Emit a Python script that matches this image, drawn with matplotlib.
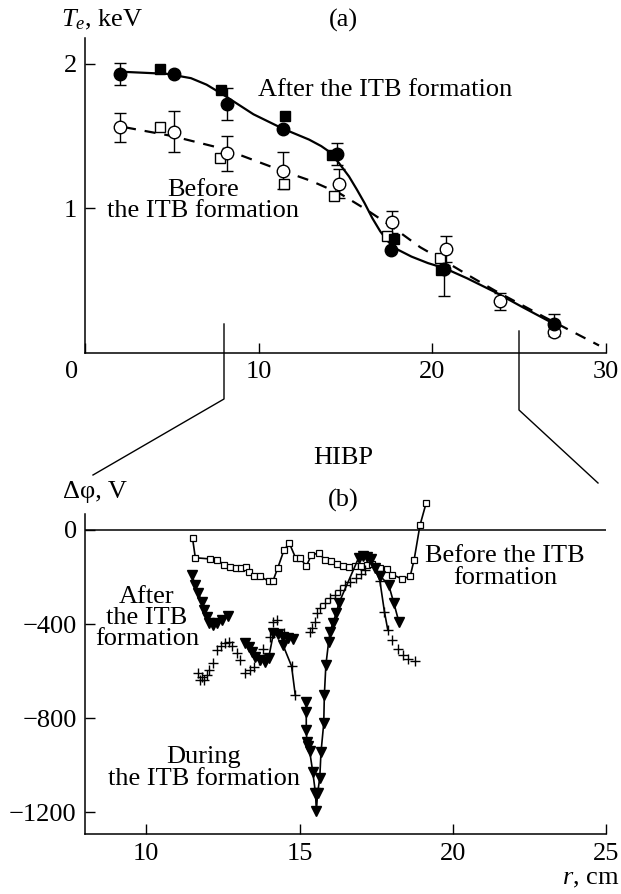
import matplotlib
matplotlib.use('Agg')
import matplotlib.pyplot as plt
from matplotlib.lines import Line2D
from matplotlib.transforms import ScaledTranslation

plt.rcParams['font.family'] = ['Liberation Serif', 'DejaVu Serif']
plt.rcParams['mathtext.fontset'] = 'custom'
plt.rcParams['mathtext.rm'] = 'Liberation Serif'
plt.rcParams['mathtext.it'] = 'Liberation Serif:italic'
plt.rcParams['font.size'] = 19

# ---- panel (a): electron temperature ----
after_circ_r = [2.0, 5.1, 8.2, 11.4, 14.5, 17.6, 20.7, 27.0]
after_circ_te = [1.93, 1.93, 1.72, 1.55, 1.375, 0.71, 0.58, 0.20]
after_circ_lo = [0.075, 0, 0.11, 0, 0.075, 0, 0.19, 0.065]
after_circ_hi = [0.075, 0, 0.11, 0, 0.075, 0, 0.03, 0.065]

after_sq_r = [4.3, 7.85, 11.5, 14.25, 17.8, 20.5]
after_sq_te = [1.965, 1.815, 1.635, 1.37, 0.79, 0.575]

before_circ_r = [2.0, 5.15, 8.2, 11.4, 14.6, 17.65, 20.8, 23.9, 27.0]
before_circ_te = [1.56, 1.53, 1.38, 1.26, 1.17, 0.905, 0.715, 0.355, 0.145]
before_circ_err = [0.1, 0.14, 0.12, 0.13, 0.1, 0.075, 0.09, 0.06, 0.03]

before_sq_r = [4.3, 7.8, 11.45, 14.35, 17.4, 20.45]
before_sq_te = [1.56, 1.35, 1.17, 1.085, 0.81, 0.655]

fit_after_r = [2.0, 4.7, 6.1, 7.0, 7.9, 9.7, 11.4, 12.9, 13.6, 14.2, 14.7, 15.2, 15.65,
               16.1, 16.55, 17.0, 17.45, 17.9, 18.8, 19.75, 20.7, 22.0, 23.6, 25.2, 27.0]
fit_after_te = [1.945, 1.93, 1.90, 1.855, 1.79, 1.65, 1.55, 1.475, 1.43, 1.38, 1.30, 1.22, 1.13,
                1.035, 0.93, 0.84, 0.77, 0.72, 0.665, 0.62, 0.585, 0.515, 0.42, 0.315, 0.20]

fit_before_r = [2.3, 5.0, 8.0, 11.1, 13.0, 14.7, 16.2, 17.7, 19.3, 20.9, 22.3, 23.6, 26.4, 29.6]
fit_before_te = [1.56, 1.50, 1.41, 1.27, 1.19, 1.10, 0.99, 0.87, 0.73, 0.62, 0.52, 0.43, 0.25, 0.05]

# ---- panel (b): HIBP potential ----
before_r = [11.51, 11.60, 12.07, 12.32, 12.54, 12.74, 12.93, 13.10, 13.25, 13.36, 13.51, 13.71,
            14.00, 14.13, 14.29, 14.50, 14.67, 14.87, 15.03, 15.22, 15.38, 15.62, 15.84, 16.03,
            16.22, 16.42, 16.61, 16.80, 17.00, 17.19, 17.38, 17.64, 17.84, 18.03, 18.35, 18.61,
            18.74, 18.93, 19.13]
before_phi = [-36, -118, -123, -128, -147, -158, -161, -161, -157, -178, -194, -197,
              -218, -218, -161, -83, -57, -118, -121, -154, -108, -97, -128, -133,
              -143, -154, -157, -151, -151, -147, -143, -161, -168, -190, -208, -197,
              -126, 20, 114]

after1_r = [11.49, 11.59, 11.70, 11.81, 11.89, 11.97, 12.06, 12.19, 12.32, 12.46, 12.65]
after1_phi = [-191, -234, -269, -305, -340, -368, -397, -404, -397, -382, -365]

after2_r = [13.23, 13.34, 13.45, 13.56, 13.72, 13.88, 13.99, 14.15, 14.31, 14.47, 14.64, 14.80]
after2_phi = [-482, -496, -517, -538, -552, -560, -545, -439, -442, -456, -460, -462]

drop_r = [14.46, 14.74, 14.86]
drop_phi = [-489, -579, -701]

during_r = [15.22, 15.22, 15.22, 15.24, 15.28, 15.33, 15.43, 15.52, 15.55, 15.59, 15.66, 15.70,
            15.79, 15.81, 15.86, 15.95, 16.00, 16.09, 16.20, 16.28, 16.93, 17.06, 17.19, 17.32,
            17.45, 17.64, 17.91, 18.08, 18.24]
during_phi = [-730, -772, -850, -900, -918, -940, -1027, -1118, -1195, -1118, -1055, -946,
              -822, -701, -574, -475, -432, -394, -354, -312, -118, -111, -114, -123,
              -161, -197, -234, -312, -390]

cross_r = [11.70, 11.74, 11.81, 11.87, 11.97, 12.06, 12.17, 12.30, 12.43, 12.57, 12.71, 12.79,
           12.95, 13.06, 13.23, 13.37, 13.50, 13.67, 13.80, 14.05, 14.13, 14.26, 14.50,
           14.74, 14.86,
           15.35, 15.41, 15.52, 15.57, 15.68, 15.84, 16.00, 16.17, 16.33, 16.50, 16.66, 16.83,
           17.00, 17.15,
           17.62, 17.77, 17.88, 18.02, 18.20, 18.38, 18.55, 18.78]
cross_phi = [-609, -636, -624, -640, -617, -595, -567, -510, -493, -482, -475, -493,
             -524, -553, -609, -595, -581, -553, -507, -453, -390, -382, -436,
             -579, -701,
             -432, -418, -390, -354, -333, -312, -290, -276, -255, -234, -220, -205,
             -187, -170,
             -215, -347, -425, -467, -507, -531, -548, -555]

fall_r = [17.35, 17.62, 17.77, 17.88]
fall_phi = [-130, -215, -347, -425]

W, H = 621, 894
fig = plt.figure(figsize=(W / 100, H / 100), dpi=100)


def box(x0, y0, x1, y1):
    return [x0 / W, 1 - y1 / H, (x1 - x0) / W, (y1 - y0) / H]


def ftext(x, y, s, **kw):
    fig.text(x / W, 1 - y / H, s, ha=kw.pop('ha', 'center'), va=kw.pop('va', 'center'), **kw)


def style(ax):
    for side in ['top', 'right']:
        ax.spines[side].set_visible(False)
    for side in ['left', 'bottom']:
        ax.spines[side].set_linewidth(1.1)
    ax.tick_params(direction='in', length=7, width=1.0, pad=6)


ax1 = fig.add_axes(box(85, 37.7, 606, 352.7))
ax2 = fig.add_axes(box(85, 514, 606, 834.3))

# panel (a)
ax1.plot(fit_after_r, fit_after_te, color='black', lw=1.6)
ax1.plot(fit_before_r, fit_before_te, color='black', lw=1.6, dashes=(5, 4))
ax1.errorbar(before_circ_r, before_circ_te, yerr=before_circ_err, fmt='o', ms=9, mfc='white',
             mec='black', mew=1.0, ecolor='black', elinewidth=1.0, capsize=4, capthick=1.0)
ax1.plot(before_sq_r, before_sq_te, 's', ms=7.5, mfc='white', mec='black', mew=1.0)
ax1.errorbar(after_circ_r, after_circ_te, yerr=[after_circ_lo, after_circ_hi], fmt='o', ms=9,
             color='black', ecolor='black', elinewidth=1.0, capsize=4, capthick=1.0)
ax1.plot(after_sq_r, after_sq_te, 's', ms=7.5, color='black')

ax1.set_xlim(0, 30)
ax1.set_ylim(0, 2.18)
ax1.set_xticks([0, 10, 20, 30])
ax1.set_yticks([1, 2])
style(ax1)
lab0 = ax1.get_xticklabels()[0]
lab0.set_transform(lab0.get_transform() + ScaledTranslation(-13 / 100, 0, fig.dpi_scale_trans))

ax1.text(17.3, 1.82, 'After the ITB formation', ha='center', va='center')
ax1.text(6.8, 1.055, 'Before\nthe ITB formation', ha='center', va='center', linespacing=0.95)

ftext(102, 20, '$T_e$, keV')
ftext(343, 20, '(a)')

# panel (b)
ax2.axhline(0, color='black', lw=1.1)
ax2.plot(before_r, before_phi, '-s', color='black', lw=1.2, ms=5, mfc='white', mew=0.9,
         clip_on=False)
ax2.plot(after1_r, after1_phi, '-v', color='black', lw=1.2, ms=6.5)
ax2.plot(after2_r, after2_phi, '-v', color='black', lw=1.2, ms=6.5)
ax2.plot(drop_r, drop_phi, '-', color='black', lw=1.2)
ax2.plot(drop_r[:1], drop_phi[:1], 'v', color='black', ms=6.5)
ax2.plot(during_r, during_phi, '-v', color='black', lw=1.2, ms=6.5)
ax2.plot(fall_r, fall_phi, '-', color='black', lw=1.2)
ax2.plot(cross_r, cross_phi, '+', color='black', ms=7, mew=1.0)

ax2.set_xlim(8, 25)
ax2.set_ylim(-1294, 68)
ax2.set_xticks([10, 15, 20, 25])
ax2.set_yticks([0, -400, -800, -1200])
style(ax2)

ftext(95, 492, 'Δφ, V')
ftext(343, 500, '(b)')
ftext(343, 458, 'HIBP')
ftext(505, 567, 'Before the ITB\nformation', linespacing=0.95)
ftext(147, 618, 'After\nthe ITB\nformation', linespacing=0.95)
ftext(204, 768, 'During\nthe ITB formation', linespacing=0.95)
ftext(619, 879, '$r$, cm', ha='right')

# zoom connectors between the panels
for xs, ys in [([224, 224, 93], [324, 399, 475]), ([519, 519, 598], [331, 410, 483])]:
    fig.add_artist(Line2D([x / W for x in xs], [1 - y / H for y in ys],
                          color='black', lw=1.0, transform=fig.transFigure))

fig.savefig('out.png', dpi=100)
